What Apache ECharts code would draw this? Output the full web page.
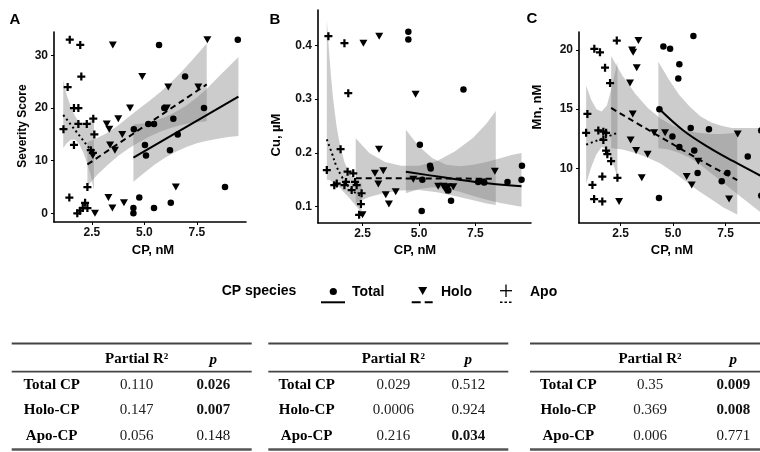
<!DOCTYPE html>
<html><head><meta charset="utf-8">
<script src="https://cdn.jsdelivr.net/npm/echarts@6/dist/echarts.min.js"></script>
<style>html,body{margin:0;padding:0;background:#fff}#c{width:760px;height:452px}</style>
</head><body><div id="c"></div>
<script>
// ---------- Panel A : Severity Score ----------
const aTotal = [[5.7,32],[9.45,33],[6.94,26],[7.84,20],[5.95,20],[6.38,18],[4.5,16],[5.19,17],[5.46,17],[5.03,13],[5.08,11],[6.22,12],[6.59,15],[8.84,5],[4.76,3],[4.48,1],[4.48,0],[5.46,1],[6.26,2]];
const aHolo = [[3.5,32],[4.9,26],[8.0,33],[6.14,24],[7.57,24],[4.32,20],[6.07,20],[3.76,18],[3.21,17],[3.33,16],[3.95,15],[3.6,12],[3.37,13],[2.55,11],[6.5,5],[3.29,3],[4.03,2],[3.48,1],[2.65,0]];
const aApo = [[1.45,33],[1.95,32],[1.35,24],[2.0,26],[1.15,16],[1.65,20],[1.86,20],[1.86,17],[2.26,17],[1.65,13],[2.57,18],[2.62,15],[2.45,12],[2.55,11.5],[1.43,3],[2.29,5],[2.18,2],[2.29,1],[2.07,1],[1.94,0.5],[1.81,0]];
const aTotalFit = [[4.48,10.6],[9.48,22.2]];
const aHoloFit = [[2.29,9.3],[7.97,24.5]];
const aApoFit = [[1.14,18.7],[2.57,11.4]];
const aTotalCI = [[4.48,6.0,16.9],[5.0,7.7,17.1],[5.5,9.3,17.6],[6.0,10.6,18.3],[6.5,11.7,19.3],[7.0,12.6,20.5],[7.5,13.3,22.0],[8.0,13.8,23.8],[8.5,14.2,25.8],[9.0,14.5,27.8],[9.48,14.7,29.7]];
const aHoloCI = [[2.29,5.2,13.5],[2.75,7.3,14.3],[3.25,9.2,15.3],[3.75,10.9,16.7],[4.25,12.3,18.3],[4.75,13.5,19.9],[5.25,14.6,21.4],[5.75,15.5,23.0],[6.25,16.2,24.8],[6.75,16.8,26.8],[7.25,17.2,29.0],[7.97,17.5,32.3]];
const aApoCI = [[1.14,12.4,25.3],[1.3,13.3,22.6],[1.5,14.0,20.2],[1.7,14.0,18.5],[1.9,13.2,17.3],[2.1,11.5,16.8],[2.3,9.2,17.0],[2.45,7.2,17.6],[2.6,4.5,18.4]];
const aYTicks = [0,10,20,30];

// ---------- Panel B : Cu ----------
const bTotal = [[4.53,0.425],[4.53,0.411],[6.97,0.318],[5.04,0.215],[5.49,0.176],[5.52,0.171],[5.15,0.15],[6.23,0.134],[6.3,0.13],[6.42,0.111],[5.12,0.092],[7.62,0.146],[7.89,0.145],[8.92,0.146],[9.54,0.15],[9.56,0.176]];
const bHolo = [[2.54,0.404],[3.24,0.417],[4.85,0.309],[3.23,0.207],[3.05,0.162],[3.42,0.167],[3.2,0.142],[3.53,0.122],[3.67,0.105],[3.97,0.128],[2.5,0.085],[4.75,0.151],[5.85,0.138],[6.08,0.138],[6.3,0.137],[6.52,0.137],[8.36,0.166],[7.8,0.146],[6.2,0.13]];
const bApo = [[0.99,0.417],[1.7,0.404],[1.87,0.311],[1.53,0.207],[0.92,0.168],[1.25,0.14],[1.36,0.143],[1.7,0.14],[1.84,0.165],[2.09,0.162],[1.77,0.146],[2.17,0.146],[2.24,0.14],[2.02,0.131],[2.46,0.125],[2.43,0.105],[2.35,0.085]];
const bTotalFit = [[4.42,0.165],[6.0,0.155],[7.5,0.146],[9.54,0.138]];
const bHoloFit = [[2.2,0.153],[8.4,0.152]];
const bApoFit = [[0.92,0.225],[1.14,0.2],[1.35,0.175],[1.58,0.156],[1.8,0.142],[2.02,0.131],[2.25,0.124],[2.46,0.119]];
const bTotalCI = [[4.42,0.125,0.243],[5.0,0.133,0.212],[5.6,0.136,0.19],[6.2,0.134,0.178],[6.8,0.128,0.175],[7.4,0.12,0.178],[8.0,0.113,0.183],[8.6,0.107,0.19],[9.1,0.103,0.196],[9.54,0.1,0.2]];
const bHoloCI = [[2.2,0.107,0.227],[2.8,0.118,0.2],[3.5,0.126,0.183],[4.2,0.13,0.176],[5.0,0.131,0.176],[5.8,0.127,0.185],[6.6,0.12,0.203],[7.4,0.112,0.228],[8.0,0.106,0.255],[8.4,0.103,0.278]];
const bApoCI = [[0.92,0.15,0.447],[1.0,0.15,0.40],[1.1,0.148,0.345],[1.2,0.145,0.30],[1.35,0.14,0.25],[1.5,0.135,0.215],[1.7,0.126,0.183],[1.9,0.117,0.163],[2.1,0.107,0.152],[2.3,0.097,0.146],[2.46,0.089,0.143]];
const bYTicks = [0.1,0.2,0.3,0.4];

// ---------- Panel C : Mn ----------
const cTotal = [[5.97,21.18],[4.54,20.3],[4.86,20.1],[5.3,18.8],[5.25,17.6],[4.35,15.0],[5.84,13.4],[6.71,13.3],[4.97,12.7],[5.3,11.8],[6.01,11.5],[6.17,9.6],[4.33,7.5],[7.32,8.9],[7.59,9.6],[8.56,11.0],[9.2,13.2],[9.2,7.7]];
const cHolo = [[3.35,20.8],[3.05,20.0],[3.1,19.8],[3.27,18.5],[2.95,17.2],[3.08,14.6],[2.98,12.4],[3.24,11.5],[3.79,11.2],[3.51,9.2],[2.43,7.2],[4.1,13.0],[4.62,13.0],[5.65,9.3],[5.89,8.6],[6.2,10.6],[8.08,12.9],[7.67,7.4]];
const cApo = [[1.25,20.1],[1.52,19.8],[1.76,18.5],[2.0,17.2],[2.32,20.8],[0.92,14.6],[0.86,13.0],[1.44,13.2],[1.68,13.1],[1.81,13.0],[1.68,12.4],[1.81,11.5],[1.87,11.2],[2.05,10.6],[2.35,9.2],[1.63,9.3],[1.16,8.6],[1.24,7.4],[1.63,7.2]];
const cTotalFit = [[4.3,15.1],[5.49,13.2],[6.68,11.8],[7.87,10.6],[9.14,9.4],[9.6,9.0]];
const cHoloFit = [[2.05,15.1],[6.29,10.7],[8.06,9.0]];
const cApoFit = [[0.86,12.0],[2.35,13.0]];
const cTotalCI = [[4.3,11.7,19.0],[4.8,11.6,17.5],[5.3,11.3,16.2],[5.8,10.9,15.2],[6.3,10.3,14.4],[6.8,9.6,13.9],[7.3,8.9,13.6],[7.8,8.2,13.4],[8.3,7.5,13.4],[8.8,6.8,13.4],[9.3,6.1,13.4],[9.6,5.6,13.5]];
const cHoloCI = [[2.05,11.7,19.5],[2.6,11.6,17.8],[3.2,11.3,16.3],[3.8,10.9,15.1],[4.4,10.4,14.2],[5.0,9.7,13.6],[5.6,8.9,13.2],[6.2,8.1,13.0],[6.8,7.4,12.9],[7.4,6.7,12.9],[8.06,6.1,13.0]];
const cApoCI = [[0.86,8.7,17.0],[1.1,10.1,15.8],[1.35,11.2,15.0],[1.6,11.8,14.8],[1.85,11.6,15.3],[2.1,10.6,17.0],[2.35,9.3,19.0]];
const cYTicks = [10,15,20];

const xTicks = [2.5,5.0,7.5];

// ---------- Tables ----------
const rowLabels = ['Total CP','Holo-CP','Apo-CP'];
const r2A = ['0.110','0.147','0.056'];
const pA  = ['0.026','0.007','0.148'];
const r2B = ['0.029','0.0006','0.216'];
const pB  = ['0.512','0.924','0.034'];
const r2C = ['0.35','0.369','0.006'];
const pC  = ['0.009','0.008','0.771'];

// ---------- Rendering ----------
const SANS = '"Liberation Sans", Arial, Helvetica, sans-serif';
const SERIF = '"Liberation Serif", "Times New Roman", serif';
const PLUS = 'path://M3.6,0H6.4V3.6H10V6.4H6.4V10H3.6V6.4H0V3.6H3.6Z';
const TRI = 'path://M0,0H10L5,9Z';
const RIB = 'rgba(128,128,128,0.4)';

const grids = [
  {left:54, top:32, width:192, height:190},
  {left:318, top:10, width:213, height:213},
  {left:579, top:32, width:199, height:191}
];
const xr = [[0.70,9.84],[0.53,9.96],[0.52,10.0]];
const yr = [[-1.65,34.47],[0.0697,0.4656],[5.38,21.52]];
const yt = [aYTicks,bYTicks,cYTicks];
const yf = [v=>String(v), v=>v.toFixed(1), v=>String(v)];

const axisCommon = {
  type:'value',
  axisLine:{show:true,onZero:false,lineStyle:{color:'#000',width:1.6}},
  splitLine:{show:false}
};
const xAxis = grids.map((g,i)=>Object.assign({}, axisCommon, {
  gridIndex:i, min:xr[i][0], max:xr[i][1],
  axisTick:{show:true,length:3,lineStyle:{color:'#000',width:1},customValues:xTicks},
  axisLabel:{customValues:xTicks, formatter:v=>v.toFixed(1), color:'#111', fontWeight:'bold', fontSize:12, fontFamily:SANS, margin:5}
}));
const yAxis = grids.map((g,i)=>Object.assign({}, axisCommon, {
  gridIndex:i, min:yr[i][0], max:yr[i][1],
  axisTick:{show:true,length:3,lineStyle:{color:'#000',width:1},customValues:yt[i]},
  axisLabel:{customValues:yt[i], formatter:yf[i], color:'#111', fontWeight:'bold', fontSize:12, fontFamily:SANS, margin:6}
}));

function scatter(gi, data, sym, size){
  return {type:'scatter', xAxisIndex:gi, yAxisIndex:gi, data:data, symbol:sym, symbolSize:size,
    itemStyle:{color:'#000', opacity:1}, z:3, silent:true};
}
function fit(gi, data, dash, smooth){
  return {type:'line', xAxisIndex:gi, yAxisIndex:gi, data:data, showSymbol:false, symbol:'none',
    smooth:smooth?0.4:false, lineStyle:{color:'#000', width:2, type:dash}, z:4, silent:true};
}
function ribbon(gi, data){
  return {type:'custom', xAxisIndex:gi, yAxisIndex:gi, data:data, silent:true, clip:true, z:2,
    encode:{x:0, y:[1,2]},
    renderItem:function(params, api){
      if (params.dataIndex !== 0) return null;
      const pts = [];
      for (let k=0;k<data.length;k++) pts.push(api.coord([data[k][0], data[k][2]]));
      for (let k=data.length-1;k>=0;k--) pts.push(api.coord([data[k][0], data[k][1]]));
      return {type:'polygon', shape:{points:pts}, style:{fill:RIB, stroke:null}};
    }};
}
const DASH=[6,4], DOT=[2,3];
const series = [
  ribbon(0,aTotalCI), ribbon(0,aHoloCI), ribbon(0,aApoCI),
  ribbon(1,bTotalCI), ribbon(1,bHoloCI), ribbon(1,bApoCI),
  ribbon(2,cTotalCI), ribbon(2,cHoloCI), ribbon(2,cApoCI),
  scatter(0,aTotal,'circle',6.5), scatter(0,aHolo,TRI,[8,7]), scatter(0,aApo,PLUS,8),
  scatter(1,bTotal,'circle',6.5), scatter(1,bHolo,TRI,[8,7]), scatter(1,bApo,PLUS,8),
  scatter(2,cTotal,'circle',6.5), scatter(2,cHolo,TRI,[8,7]), scatter(2,cApo,PLUS,8),
  fit(0,aTotalFit,'solid',false), fit(0,aHoloFit,DASH,false), fit(0,aApoFit,DOT,false),
  fit(1,bTotalFit,'solid',true), fit(1,bHoloFit,DASH,false), fit(1,bApoFit,DOT,true),
  fit(2,cTotalFit,'solid',true), fit(2,cHoloFit,DASH,true), fit(2,cApoFit,DOT,false)
];

// graphic: panel letters, axis titles, legend, tables
const G = [];
function txt(x,y,text,font,align,rot,fill){
  G.push({type:'text', x:x, y:y, rotation:rot||0, silent:true,
    style:{text:text, font:font, align:align||'center', verticalAlign:'middle', fill:fill||'#000'}});
}
function hline(x1,x2,y,w,col,dash){
  G.push({type:'line', silent:true, shape:{x1:x1,y1:y,x2:x2,y2:y},
    style:{stroke:col||'#000', lineWidth:w, lineDash:dash||null}});
}
txt(15,20,'A','bold 15px '+SANS);
txt(275,20,'B','bold 15px '+SANS);
txt(532,19,'C','bold 15px '+SANS);
txt(23,126,'Severity Score','bold 12px '+SANS,'center',Math.PI/2);
txt(276,135,'Cu, \u00b5M','bold 13px '+SANS,'center',Math.PI/2);
txt(537,107,'Mn, nM','bold 13px '+SANS,'center',Math.PI/2);
txt(153,250,'CP, nM','bold 13px '+SANS);
txt(415,250,'CP, nM','bold 13px '+SANS);
txt(672,250,'CP, nM','bold 13px '+SANS);

// legend
txt(259,291,'CP species','bold 14px '+SANS);
G.push({type:'circle', silent:true, shape:{cx:333.3,cy:291.5,r:3.6}, style:{fill:'#000'}});
hline(321,345,302.3,2);
txt(352,291.7,'Total','bold 14px '+SANS,'left');
G.push({type:'polygon', silent:true, shape:{points:[[418.2,287],[427.2,287],[422.7,295]]}, style:{fill:'#000'}});
hline(411.7,432.7,302.3,2,'#000',[9,4]);
txt(441,291.7,'Holo','bold 14px '+SANS,'left');
hline(500,512,290.7,1.3);
G.push({type:'line', silent:true, shape:{x1:506,y1:284.5,x2:506,y2:297}, style:{stroke:'#000',lineWidth:1.3}});
hline(500,512,302.3,1.5,'#000',[2.5,2]);
txt(530,291.7,'Apo','bold 14px '+SANS,'left');

// tables
const tables = [
  {x0:11.7, x1:251.7, cols:[51.7,136.7,213.3], r2:r2A, p:pA},
  {x0:268.3, x1:508.3, cols:[306.7,393.3,468.3], r2:r2B, p:pB},
  {x0:530, x1:772, cols:[568.3,650,733.3], r2:r2C, p:pC}
];
const rowY = [385,410.5,436];
tables.forEach(t=>{
  hline(t.x0,t.x1,343.5,2,'#444');
  hline(t.x0,t.x1,371.7,1.8,'#444');
  hline(t.x0,t.x1,449.5,2.5,'#555');
  txt(t.cols[1],359,'Partial R\u00b2','bold 15px '+SERIF);
  txt(t.cols[2],360,'p','italic bold 15px '+SERIF);
  rowLabels.forEach((lab,k)=>{
    txt(t.cols[0],rowY[k],lab,'bold 15px '+SERIF);
    txt(t.cols[1],rowY[k],t.r2[k],'15px '+SERIF,'center',0,'#222');
    const sig = parseFloat(t.p[k]) < 0.05;
    txt(t.cols[2],rowY[k],t.p[k],(sig?'bold ':'')+'15px '+SERIF,'center',0,'#111');
  });
});

const chart = echarts.init(document.getElementById('c'), null, {renderer:'canvas'});
chart.setOption({
  backgroundColor:'#fff',
  animation:false,
  grid: grids.map(g=>Object.assign({containLabel:false, outerBoundsMode:'none'}, g)),
  xAxis: xAxis,
  yAxis: yAxis,
  series: series,
  graphic: {elements: G}
});
</script></body></html>
